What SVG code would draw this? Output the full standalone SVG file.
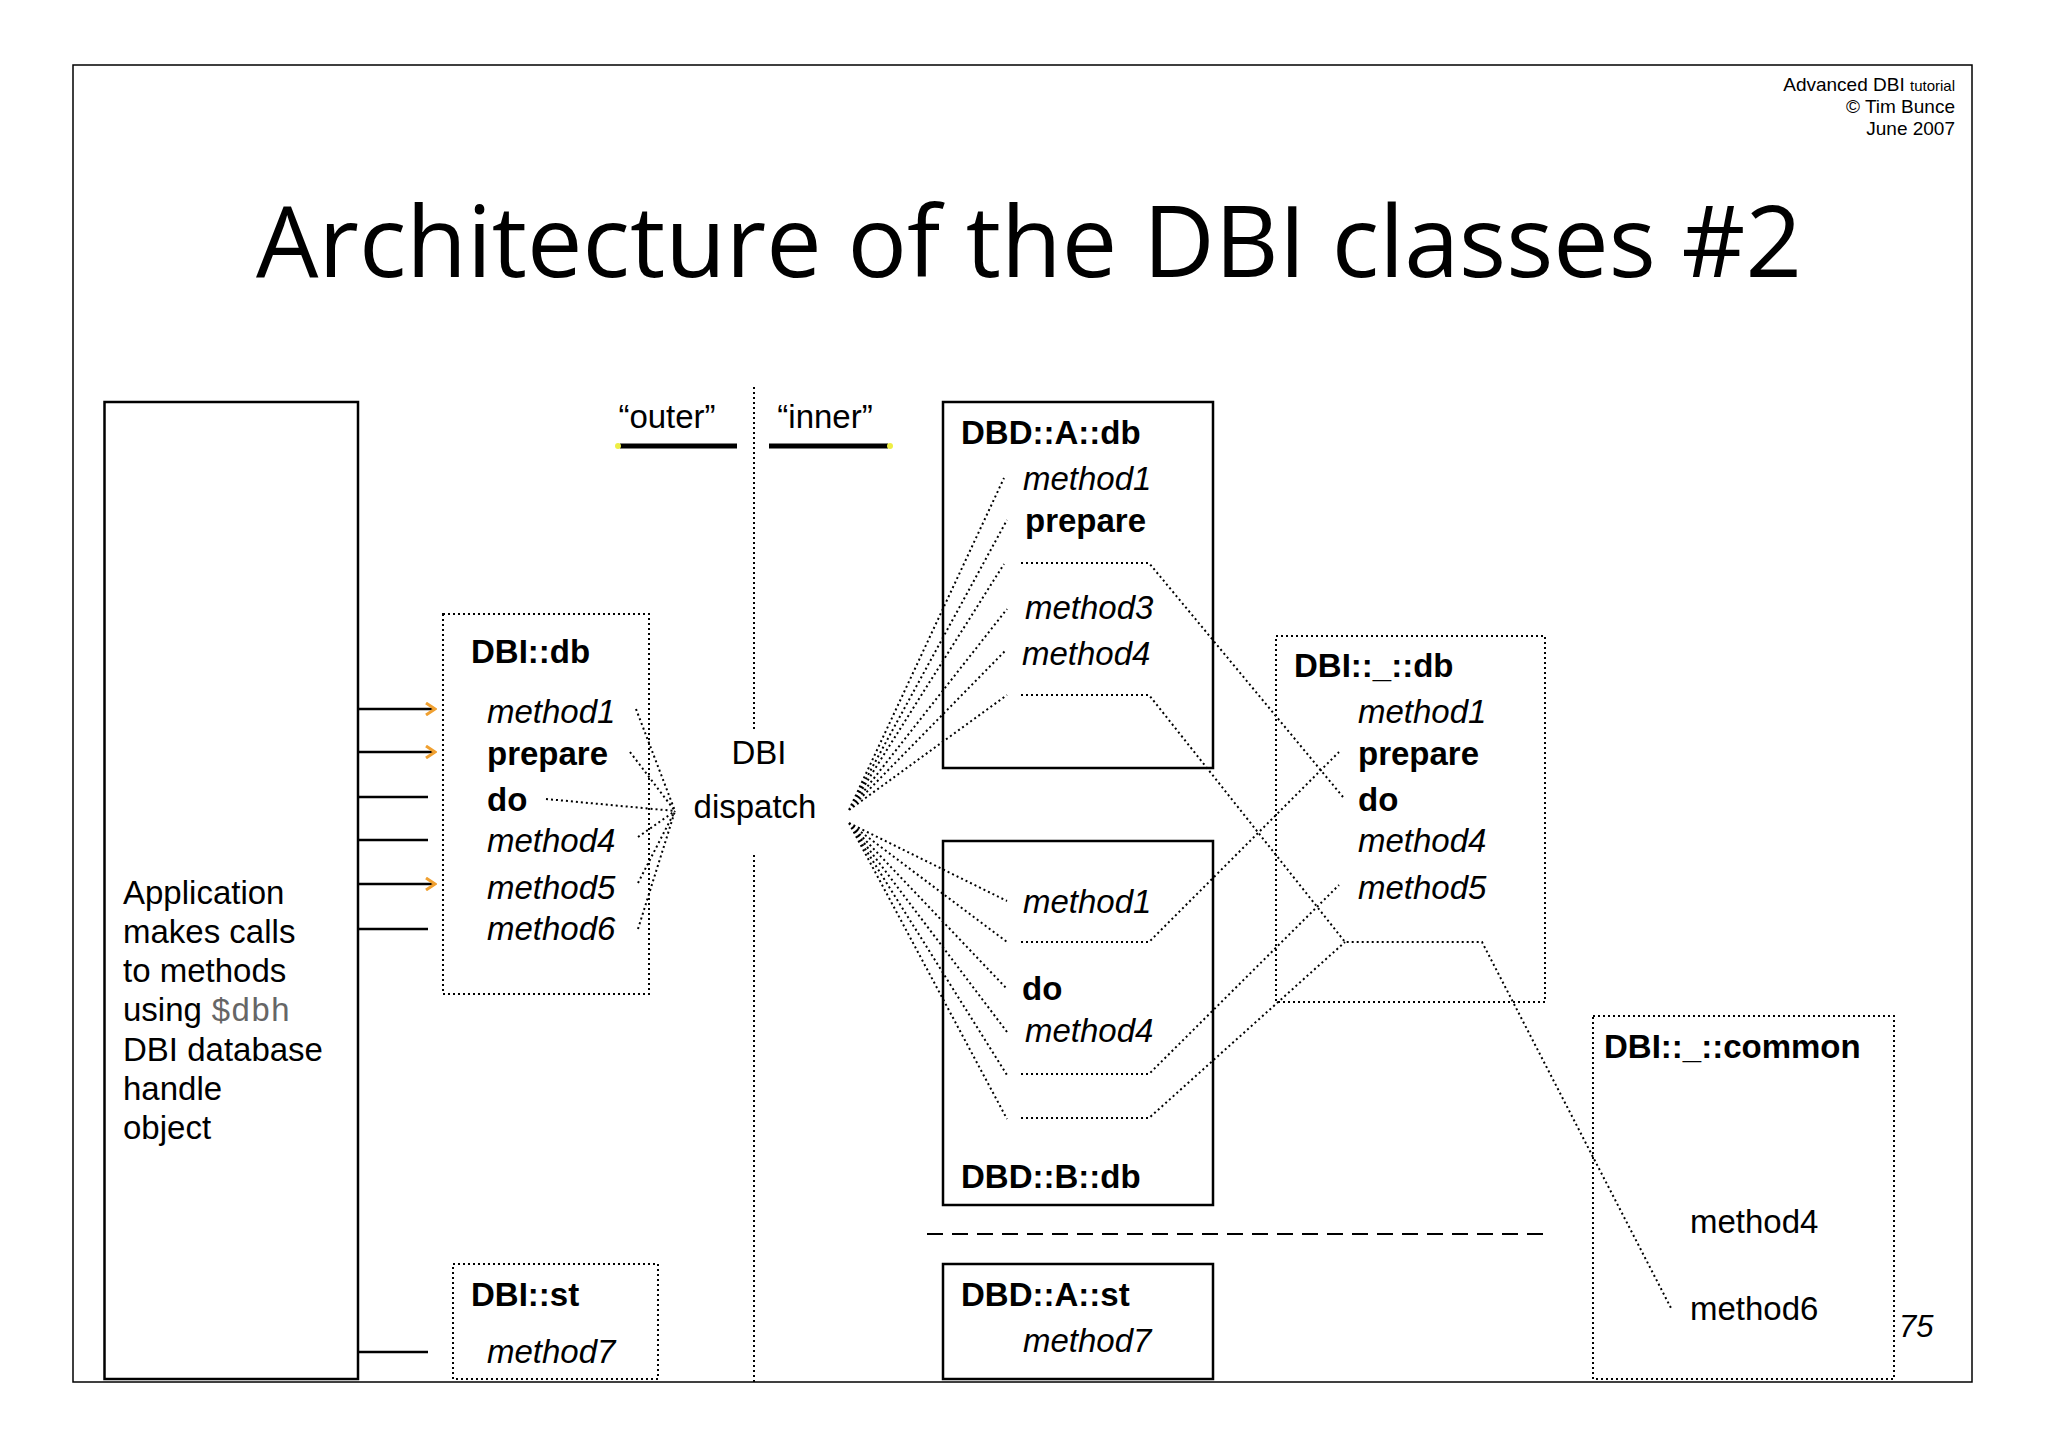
<svg xmlns="http://www.w3.org/2000/svg" width="2048" height="1448" viewBox="0 0 2048 1448">
<style>
text{font-family:"Liberation Sans",Arial,sans-serif;fill:#000}
.t{font-size:33px}
.b{font-size:33px;font-weight:bold}
.i{font-size:33px;font-style:italic}
.solid{fill:none;stroke:#000;stroke-width:2.5}
.dotbox{fill:none;stroke:#000;stroke-width:2;stroke-dasharray:2 3}
.dot{fill:none;stroke:#000;stroke-width:2;stroke-dasharray:2 3}
.ln{stroke:#000;stroke-width:2.5}
</style>
<defs>
<marker id="oa" markerWidth="12" markerHeight="14" refX="10" refY="7" orient="auto" markerUnits="userSpaceOnUse">
<path d="M1,1 L10,7 L1,13" fill="none" stroke="#f0a030" stroke-width="3"/>
</marker>
</defs>
<rect x="0" y="0" width="2048" height="1448" fill="#fff"/>
<rect x="73" y="65" width="1899" height="1317" fill="none" stroke="#000" stroke-width="1.5"/>
<text x="1955" y="91" text-anchor="end" style="font-size:19px">Advanced DBI <tspan style="font-size:15px">tutorial</tspan></text>
<text x="1955" y="113" text-anchor="end" style="font-size:19px">© Tim Bunce</text>
<text x="1955" y="135" text-anchor="end" style="font-size:19px">June 2007</text>
<text x="1029" y="277" text-anchor="middle" style="font-size:98px;font-family:'Open Sans',sans-serif" textLength="1546" lengthAdjust="spacingAndGlyphs">Architecture of the DBI classes #2</text>

<g id="outer-inner">
<text x="667" y="428" text-anchor="middle" class="t">“outer”</text>
<text x="825" y="428" text-anchor="middle" class="t">“inner”</text>
<line x1="620" y1="446" x2="737" y2="446" stroke="#000" stroke-width="5"/>
<line x1="769" y1="446" x2="888" y2="446" stroke="#000" stroke-width="5"/>
<circle cx="618" cy="446" r="3" fill="#ee4"/>
<circle cx="890" cy="446" r="3" fill="#ee4"/>
</g>

<g id="app">
<rect x="104.5" y="402" width="253.5" height="977" class="solid"/>
<text class="t" x="123"><tspan x="123" y="904">Application</tspan><tspan x="123" y="943">makes calls</tspan><tspan x="123" y="982">to methods</tspan><tspan x="123" y="1021">using <tspan style="font-family:'Liberation Mono',monospace;fill:#666">$dbh</tspan></tspan><tspan x="123" y="1061">DBI database</tspan><tspan x="123" y="1100">handle</tspan><tspan x="123" y="1139">object</tspan></text>
</g>

<g id="dbi-db">
<rect x="443" y="614" width="206" height="380" class="dotbox"/>
<text x="471" y="663" class="b">DBI::db</text>
<text x="487" y="723" class="i">method1</text>
<text x="487" y="765" class="b">prepare</text>
<text x="487" y="811" class="b">do</text>
<text x="487" y="852" class="i">method4</text>
<text x="487" y="899" class="i">method5</text>
<text x="487" y="940" class="i">method6</text>
</g>

<g id="dbi-st">
<rect x="453" y="1264" width="205" height="115" class="dotbox"/>
<text x="471" y="1306" class="b">DBI::st</text>
<text x="487" y="1363" class="i">method7</text>
</g>

<g id="dispatch">
<text x="759" y="764" text-anchor="middle" class="t">DBI</text>
<text x="755" y="818" text-anchor="middle" class="t">dispatch</text>
</g>

<g id="dbd-a-db">
<rect x="943" y="402" width="270" height="366" class="solid"/>
<text x="961" y="444" class="b">DBD::A::db</text>
<text x="1023" y="490" class="i">method1</text>
<text x="1025" y="532" class="b">prepare</text>
<text x="1025" y="619" class="i">method3</text>
<text x="1022" y="665" class="i">method4</text>
</g>

<g id="dbd-b-db">
<rect x="943" y="841" width="270" height="364" class="solid"/>
<text x="1023" y="913" class="i">method1</text>
<text x="1022" y="1000" class="b">do</text>
<text x="1025" y="1042" class="i">method4</text>
<text x="961" y="1188" class="b">DBD::B::db</text>
</g>

<g id="dbd-a-st">
<rect x="943" y="1264" width="270" height="115" class="solid"/>
<text x="961" y="1306" class="b">DBD::A::st</text>
<text x="1023" y="1352" class="i">method7</text>
</g>

<g id="dbi-base-db">
<rect x="1276" y="636" width="269" height="366" class="dotbox"/>
<text x="1294" y="677" class="b">DBI::_::db</text>
<text x="1358" y="723" class="i">method1</text>
<text x="1358" y="765" class="b">prepare</text>
<text x="1358" y="811" class="b">do</text>
<text x="1358" y="852" class="i">method4</text>
<text x="1358" y="899" class="i">method5</text>
</g>

<g id="dbi-common">
<rect x="1593" y="1016" width="301" height="363" class="dotbox"/>
<text x="1604" y="1058" class="b">DBI::_::common</text>
<text x="1690" y="1233" class="t">method4</text>
<text x="1690" y="1320" class="t">method6</text>
</g>

<text x="1899" y="1337" class="i" style="font-size:31px">75</text>

<g id="connectors">
<line x1="358" y1="709" x2="435" y2="709" class="ln" marker-end="url(#oa)"/>
<line x1="358" y1="752" x2="435" y2="752" class="ln" marker-end="url(#oa)"/>
<line x1="358" y1="797" x2="428" y2="797" class="ln"/>
<line x1="358" y1="840" x2="428" y2="840" class="ln"/>
<line x1="358" y1="884" x2="435" y2="884" class="ln" marker-end="url(#oa)"/>
<line x1="358" y1="929" x2="428" y2="929" class="ln"/>
<line x1="358" y1="1352" x2="428" y2="1352" class="ln"/>

<line x1="754" y1="387" x2="754" y2="731" class="dot"/>
<line x1="754" y1="855" x2="754" y2="1382" class="dot"/>

<path d="M636,709 L675,811 M630,752 L675,811 M546,799 L675,811 M638,837 L675,811 M638,883 L675,811 M638,929 L675,811" class="dot"/>

<path d="M849,810 L1004,478 M849,810 L1007,520 M849,810 L1004,564 M849,810 L1007,609 M849,810 L1006,650 M849,810 L1007,695" class="dot"/>
<path d="M849,823 L1007,901 M849,823 L1007,942 M849,823 L1007,989 M849,823 L1007,1032 M849,823 L1007,1075 M849,823 L1007,1119" class="dot"/>

<path d="M1021,563 L1149,563 L1343,797" class="dot"/>
<path d="M1021,695 L1149,695 L1345,942 L1482,942 L1672,1310" class="dot"/>
<path d="M1021,942 L1149,942 L1339,752" class="dot"/>
<path d="M1021,1074 L1149,1074 L1339,885" class="dot"/>
<path d="M1021,1118 L1149,1118 L1345,942" class="dot"/>

<line x1="927" y1="1234" x2="1545" y2="1234" stroke="#000" stroke-width="2" stroke-dasharray="16 9"/>
</g>
</svg>
